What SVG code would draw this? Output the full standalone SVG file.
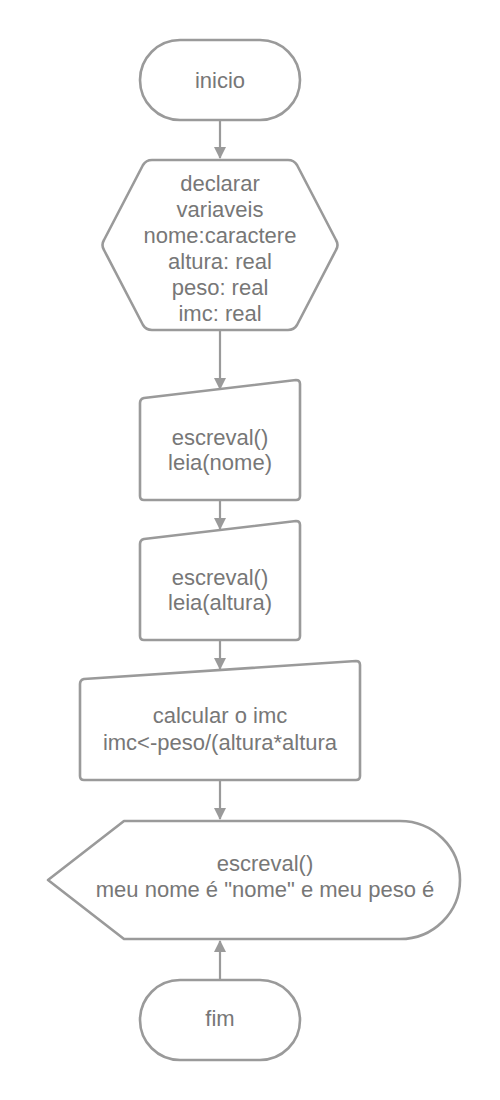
<svg xmlns="http://www.w3.org/2000/svg" width="500" height="1100" viewBox="0 0 500 1100">
<style>
.shape{fill:#ffffff;stroke:#9a9a9a;stroke-width:2.6;stroke-linejoin:round}
.t{font-family:"Liberation Sans",Arial,sans-serif;font-size:22px;fill:#777777;text-anchor:middle;dominant-baseline:central}
.c{stroke:#9a9a9a;stroke-width:2.2;fill:none}
</style>
<defs>
<marker id="ah" viewBox="0 0 12 12" refX="11" refY="6" markerWidth="12" markerHeight="12" markerUnits="userSpaceOnUse" orient="auto">
<path d="M0,0 L12,6 L0,12 Z" fill="#9a9a9a"/>
</marker>
</defs>
<rect width="500" height="1100" fill="#ffffff"/>
<g id="connectors">
<line class="c" x1="220" y1="120" x2="220" y2="158" marker-end="url(#ah)"/>
<line class="c" x1="220" y1="330" x2="220" y2="389" marker-end="url(#ah)"/>
<line class="c" x1="220" y1="500" x2="220" y2="529" marker-end="url(#ah)"/>
<line class="c" x1="220" y1="640" x2="220" y2="669" marker-end="url(#ah)"/>
<line class="c" x1="220" y1="780" x2="220" y2="819" marker-end="url(#ah)"/>
<line class="c" x1="220" y1="980" x2="220" y2="941" marker-end="url(#ah)"/>
</g>
<g id="inicio">
<rect class="shape" x="140" y="40" width="160" height="80" rx="40" ry="40"/>
<text class="t" x="220" y="80">inicio</text>
</g>
<g id="declarar">
<path class="shape" d="M152,160 L288,160 Q294,160 297,165 L336,240 Q339,245 336,250 L297,325 Q294,330 288,330 L152,330 Q146,330 143,325 L104,250 Q101,245 104,240 L143,165 Q146,160 152,160 Z"/>
<text class="t" x="220" y="183">declarar</text>
<text class="t" x="220" y="209">variaveis</text>
<text class="t" x="220" y="235">nome:caractere</text>
<text class="t" x="220" y="261">altura: real</text>
<text class="t" x="220" y="287">peso: real</text>
<text class="t" x="220" y="313">imc: real</text>
</g>
<g id="leia_nome">
<path class="shape" d="M144,398 L296,380 Q300,380 300,384 L300,496 Q300,500 296,500 L144,500 Q140,500 140,496 L140,403 Q140,399 144,398 Z"/>
<text class="t" x="220" y="437">escreval()</text>
<text class="t" x="220" y="462">leia(nome)</text>
</g>
<g id="leia_altura">
<path class="shape" d="M144,539 L296,521 Q300,521 300,525 L300,636 Q300,640 296,640 L144,640 Q140,640 140,636 L140,544 Q140,540 144,539 Z"/>
<text class="t" x="220" y="577">escreval()</text>
<text class="t" x="220" y="602">leia(altura)</text>
</g>
<g id="calcular">
<path class="shape" d="M84,679 L356,661 Q360,661 360,665 L360,776 Q360,780 356,780 L84,780 Q80,780 80,776 L80,684 Q80,680 84,679 Z"/>
<text class="t" x="220" y="715">calcular o imc</text>
<text class="t" x="220" y="742">imc&lt;-peso/(altura*altura</text>
</g>
<g id="escreval_saida">
<path class="shape" d="M124,821 L400,821 A60,59 0 0 1 400,939 L124,939 L48,880 Z"/>
<text class="t" x="265" y="863">escreval()</text>
<text class="t" x="265" y="889">meu nome é "nome" e meu peso é</text>
</g>
<g id="fim">
<rect class="shape" x="140" y="980" width="160" height="80" rx="40" ry="40"/>
<text class="t" x="220" y="1018">fim</text>
</g>
</svg>
